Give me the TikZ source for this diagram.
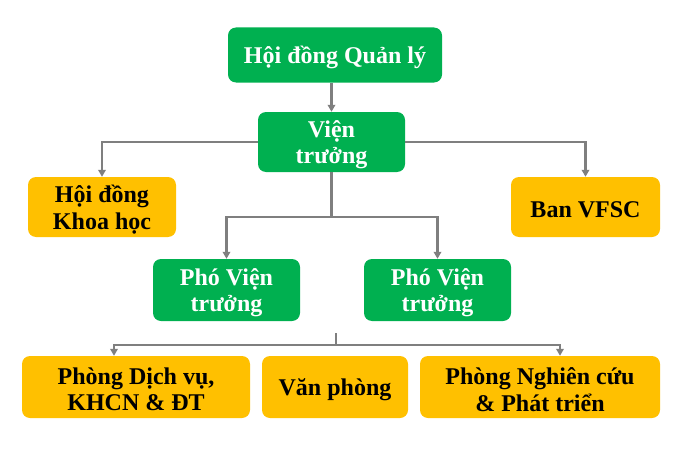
\documentclass[tikz,border=0pt]{standalone}
\usepackage{fontspec}
\setmainfont{Liberation Serif}
\usetikzlibrary{arrows.meta}
\definecolor{vgreen}{HTML}{00B050}
\definecolor{vyellow}{HTML}{FFC000}
\definecolor{lgray}{HTML}{7F7F7F}
\begin{document}
\begin{tikzpicture}[x=1pt,y=-1pt,
 box/.style={rounded corners=8pt, inner sep=0pt},
 txt/.style={font=\bfseries\fontsize{24}{26.5}\selectfont, align=center, inner sep=0pt, yshift=-2.5pt},
 gbox/.style={box, fill=vgreen, label={[txt, text=white]center:#1}},
 ybox/.style={box, fill=vyellow, label={[txt, text=black]center:#1}},
 conn/.style={draw=lgray, line width=2.4pt},
 arr/.style={conn, -{Triangle[length=7pt,width=7.5pt]}}]
\useasboundingbox (0,0) rectangle (680,452);
\node[gbox={Hội đồng Quản lý}, minimum width=214pt, minimum height=55pt] (hdql) at (335,55) {};
\node[gbox={Viện\\trưởng}, minimum width=147pt, minimum height=60pt] (vt) at (331.5,142) {};
\node[ybox={Hội đồng\\Khoa học}, minimum width=148pt, minimum height=60pt] (hdkh) at (102,207) {};
\node[ybox={Ban VFSC}, minimum width=149pt, minimum height=60pt] (vfsc) at (585.5,207) {};
\node[gbox={Phó Viện\\trưởng}, minimum width=147pt, minimum height=62pt] (pvt1) at (226.5,290) {};
\node[gbox={Phó Viện\\trưởng}, minimum width=147pt, minimum height=62pt] (pvt2) at (437.5,290) {};
\node[ybox={Phòng Dịch vụ,\\KHCN \& ĐT}, minimum width=228pt, minimum height=62pt] (pdv) at (136,387) {};
\node[ybox={Văn phòng}, minimum width=146pt, minimum height=62pt] (vp) at (335,387) {};
\node[ybox={Phòng Nghiên cứu\\\& Phát triển}, minimum width=240pt, minimum height=62pt] (pnc) at (540,387) {};
% connectors
\draw[arr] (hdql.south -| vt.north) -- (vt.north);
\draw[arr] (vt.west) -| (hdkh.north);
\draw[arr] (vt.east) -| (vfsc.north);
\coordinate (j1) at (331.5,217);
\draw[conn] (vt.south) -- (j1);
\draw[arr] (j1) -| (pvt1.north);
\draw[arr] (j1) -| (pvt2.north);
\coordinate (s) at (336,333);
\coordinate (j2) at (336,345);
\coordinate (a1) at (114,0);
\coordinate (a2) at (560,0);
\draw[conn] (s) -- (j2);
\draw[arr] (j2) -| (a1 |- pdv.north);
\draw[arr] (j2) -| (a2 |- pnc.north);
\end{tikzpicture}
\end{document}
